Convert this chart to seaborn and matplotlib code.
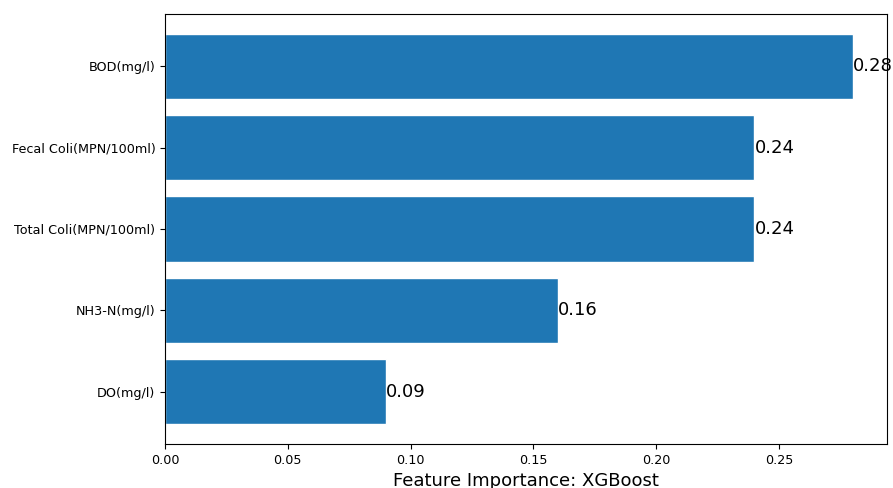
import matplotlib
matplotlib.use("Agg")
import matplotlib.pyplot as plt
import seaborn as sns
import pandas as pd

features = ["BOD(mg/l)", "Fecal Coli(MPN/100ml)", "Total Coli(MPN/100ml)",
            "NH3-N(mg/l)", "DO(mg/l)"]
importance = [0.28, 0.24, 0.24, 0.16, 0.09]

df = pd.DataFrame({"feature": features, "importance": importance})

sns.set_style("ticks")
plt.rcParams["font.family"] = ["DejaVu Sans"]
plt.rcParams.update({
    "text.color": "black",
    "axes.labelcolor": "black",
    "xtick.color": "black",
    "ytick.color": "black",
    "axes.edgecolor": "black",
})

fig = plt.figure(figsize=(8.93, 4.88), dpi=100)
ax = fig.add_axes([0.1848, 0.0902, 0.8085, 0.8811])

sns.barplot(data=df, x="importance", y="feature", orient="h",
            color="#1f77b4", saturation=1, width=0.8, ax=ax)

n = len(features)
ax.set_ylim(n - 1 + 0.64, -0.64)
ax.set_xlim(0, max(importance) * 1.05)

for i, v in enumerate(importance):
    ax.text(v, i, f"{v:.2f}", va="center", ha="left", fontsize=13,
            color="black", clip_on=False)

ax.set_ylabel("")
ax.set_xlabel("Feature Importance: XGBoost", fontsize=13)
ax.tick_params(axis="both", labelsize=9.2, colors="black")
for s in ax.spines.values():
    s.set_visible(True)
    s.set_linewidth(0.8)
    s.set_color("black")

fig.savefig("out.png", dpi=100)
